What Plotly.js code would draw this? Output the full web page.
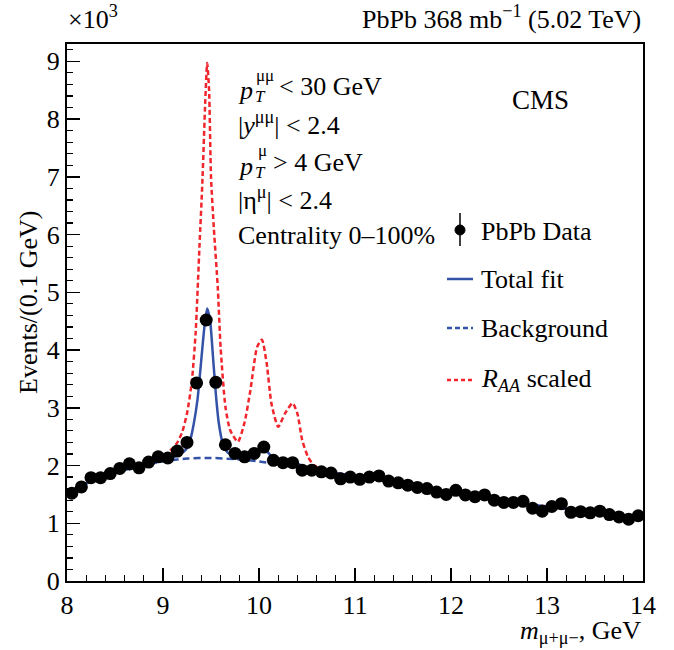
<!DOCTYPE html>
<html>
<head>
<meta charset="utf-8">
<script src="https://cdn.plot.ly/plotly-3.0.1.min.js"></script>
<style>html,body{margin:0;padding:0;background:#fff;}#chart{width:674px;height:650px;}</style>
</head>
<body>
<div id="chart"></div>
<script>
// Data points (bin centres, GeV) and counts (x10^3 events / 0.1 GeV)
const massBins = [8.05,8.15,8.25,8.35,8.45,8.55,8.65,8.75,8.85,8.95,
  9.05,9.15,9.25,9.35,9.45,9.55,9.65,9.75,9.85,9.95,
  10.05,10.15,10.25,10.35,10.45,10.55,10.65,10.75,10.85,10.95,
  11.05,11.15,11.25,11.35,11.45,11.55,11.65,11.75,11.85,11.95,
  12.05,12.15,12.25,12.35,12.45,12.55,12.65,12.75,12.85,12.95,
  13.05,13.15,13.25,13.35,13.45,13.55,13.65,13.75,13.85,13.95];
const dataCounts = [1.52,1.63,1.79,1.79,1.86,1.95,2.03,1.96,2.06,2.15,
  2.13,2.25,2.40,3.43,4.52,3.44,2.36,2.21,2.15,2.21,
  2.32,2.09,2.05,2.05,1.92,1.92,1.89,1.87,1.77,1.80,
  1.76,1.80,1.82,1.73,1.70,1.66,1.62,1.60,1.54,1.50,
  1.57,1.49,1.46,1.49,1.40,1.36,1.36,1.38,1.26,1.21,
  1.29,1.34,1.19,1.20,1.18,1.21,1.15,1.11,1.07,1.13];

// Total fit curve
const fitMass = [8.0,8.25,8.5,8.75,9.0,9.1,9.18,9.24,9.28,9.32,9.36,9.40,9.43,9.46,9.49,9.52,9.55,9.58,9.62,9.67,9.73,9.81,9.9,9.96,10.02,10.08,10.15,10.22,10.3,10.36,10.42,10.5,10.6,10.75,11.0,11.5,12.0,12.5,13.0,13.5,14.0];
const fitValues = [1.53,1.73,1.87,1.99,2.09,2.14,2.20,2.28,2.42,2.72,3.15,3.85,4.38,4.72,4.52,3.90,3.25,2.75,2.40,2.23,2.17,2.16,2.20,2.26,2.31,2.25,2.12,2.06,2.05,2.06,2.02,1.96,1.93,1.88,1.82,1.68,1.54,1.40,1.29,1.19,1.09];

// Background curve
const bkgMass = [8.0,8.25,8.5,8.75,9.0,9.25,9.5,9.75,10.0,10.25,10.5,10.75,11.0,11.5,12.0,12.5,13.0,13.5,14.0];
const bkgValues = [1.53,1.72,1.86,1.98,2.07,2.12,2.13,2.11,2.07,2.01,1.95,1.88,1.82,1.68,1.54,1.40,1.29,1.19,1.09];

// R_AA scaled curve
const raaMass = [8.0,8.25,8.5,8.75,9.0,9.1,9.15,9.2,9.25,9.3,9.34,9.38,9.41,9.44,9.46,9.48,9.50,9.53,9.57,9.60,9.65,9.70,9.78,9.85,9.91,9.98,10.03,10.08,10.13,10.20,10.27,10.35,10.40,10.45,10.51,10.57,10.71,11.0,11.5,12.0,12.5,13.0,13.5,14.0];
const raaValues = [1.53,1.73,1.88,2.01,2.15,2.30,2.40,2.58,2.90,3.45,4.30,5.80,6.90,8.30,8.97,8.50,7.00,6.10,5.10,4.05,3.02,2.61,2.41,2.75,3.30,4.05,4.18,3.77,3.07,2.67,2.90,3.08,2.90,2.44,2.15,2.01,1.89,1.82,1.68,1.54,1.40,1.29,1.19,1.09];

const xTicks = [8,9,10,11,12,13,14];
const yTicks = [0,1,2,3,4,5,6,7,8,9];

const FONT = 'Liberation Serif, Times New Roman, serif';
const BLUE = '#3352a8';
const RED = '#f0262c';
const FS = 26;

// pixel -> paper helpers (plot area: x 67..643, y 44..581)
const L = 67, R = 643, T = 44, B = 581;
const px = x => (x - L) / (R - L);
const py = y => (B - y) / (B - T);

function ann(text, x, y, size, extra) {
  return Object.assign({xref:'paper', yref:'paper', x:px(x), y:py(y), text:text,
    showarrow:false, xanchor:'left', yanchor:'middle',
    font:{family:FONT, size:size||FS, color:'#000'}}, extra||{});
}

const traces = [
  {x:bkgMass, y:bkgValues, type:'scatter', mode:'lines', line:{color:BLUE, width:2.5, dash:'7px,4px', shape:'spline', smoothing:0.8}, showlegend:false, hoverinfo:'skip'},
  {x:raaMass, y:raaValues, type:'scatter', mode:'lines', line:{color:RED, width:2.5, dash:'5px,3px', shape:'spline', smoothing:0.6}, showlegend:false, hoverinfo:'skip'},
  {x:fitMass, y:fitValues, type:'scatter', mode:'lines', line:{color:BLUE, width:2.5, shape:'spline', smoothing:0.6}, showlegend:false, hoverinfo:'skip'},
  {x:massBins, y:dataCounts, type:'scatter', mode:'markers', marker:{color:'#000', size:13}, showlegend:false}
];

const annotations = [
  ann('×10<sup>3</sup>', 66, 18, FS),
  ann('PbPb 368 mb<sup>−1</sup> (5.02 TeV)', 643, 18, FS, {xanchor:'right'}),
  ann('Events/(0.1 GeV)', 28, 303, FS, {xanchor:'center', textangle:-90}),
  ann('<i>m</i><sub>μ+μ−</sub>, GeV', 643, 632, FS, {xanchor:'right'}),
  // cuts
  ann('<i>p</i>', 236, 91, FS),
  ann('μμ', 254, 75, 17),
  ann('<i>T</i>', 253, 97, 17),
  ann('&lt; 30 GeV', 277, 87, FS),
  ann('|<i>y</i><sup>μμ</sup>| &lt; 2.4', 236, 124, FS),
  ann('<i>p</i>', 236, 166, FS),
  ann('μ', 256, 151, 17),
  ann('<i>T</i>', 253, 172, 17),
  ann('&gt; 4 GeV', 271, 162, FS),
  ann('|η<sup>μ</sup>| &lt; 2.4', 236, 198, FS),
  ann('Centrality 0–100%', 236, 235, FS),
  ann('CMS', 510, 100, 27),
  // legend text
  ann('PbPb Data', 479, 231, FS),
  ann('Total fit', 479, 279, FS),
  ann('Background', 479, 328, FS),
  ann('<i>R</i><sub><i>AA</i></sub> scaled', 479, 380, FS)
];

const shapes = [
  {type:'line', xref:'paper', yref:'paper', x0:px(460), x1:px(460), y0:py(213), y1:py(246), line:{color:'#000', width:1.5}},
  {type:'circle', xref:'paper', yref:'paper', x0:px(455), x1:px(465), y0:py(235), y1:py(225), fillcolor:'#000', line:{color:'#000', width:1}},
  {type:'line', xref:'paper', yref:'paper', x0:px(447), x1:px(473), y0:py(279), y1:py(279), line:{color:BLUE, width:2.5}},
  {type:'line', xref:'paper', yref:'paper', x0:px(447), x1:px(473), y0:py(328), y1:py(328), line:{color:BLUE, width:2.5, dash:'5px,3px'}},
  {type:'line', xref:'paper', yref:'paper', x0:px(447), x1:px(473), y0:py(380), y1:py(380), line:{color:RED, width:2.5, dash:'4px,3px'}}
];

const layout = {
  width:674, height:650,
  margin:{l:L, r:674-R, t:T, b:650-B},
  paper_bgcolor:'#fff', plot_bgcolor:'#fff',
  showlegend:false,
  font:{family:FONT, size:FS, color:'#000'},
  xaxis:{range:[8,14], tickvals:xTicks, ticktext:xTicks.map(String), ticks:'inside', ticklen:13, tickwidth:1.5, tickcolor:'#000',
    showline:true, linecolor:'#000', linewidth:2, mirror:true, showgrid:false, zeroline:false,
    minor:{dtick:0.2, tick0:8, ticks:'inside', ticklen:6, tickwidth:1.2, tickcolor:'#000', showgrid:false},
    tickfont:{family:FONT, size:FS, color:'#000'}},
  yaxis:{range:[0,9.3], tickvals:yTicks, ticktext:yTicks.map(String), ticks:'inside', ticklen:13, tickwidth:1.5, tickcolor:'#000',
    showline:true, linecolor:'#000', linewidth:2, mirror:true, showgrid:false, zeroline:false,
    minor:{dtick:0.2, tick0:0, ticks:'inside', ticklen:6, tickwidth:1.2, tickcolor:'#000', showgrid:false},
    tickfont:{family:FONT, size:FS, color:'#000'}},
  annotations:annotations,
  shapes:shapes
};

Plotly.newPlot('chart', traces, layout, {displayModeBar:false, staticPlot:true});
</script>
</body>
</html>
